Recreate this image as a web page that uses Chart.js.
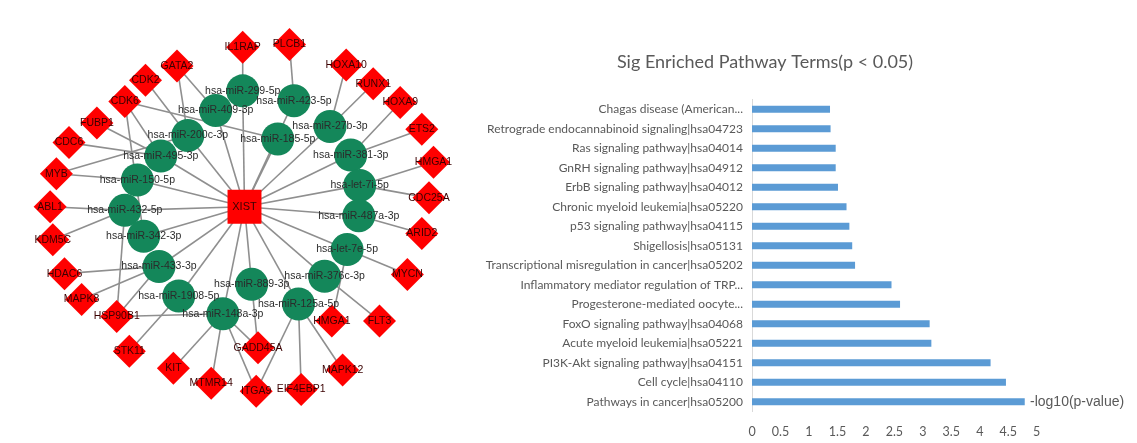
<!DOCTYPE html>
<html lang="en">
<head>
<meta charset="UTF-8">
<title>XIST ceRNA network and enriched pathways</title>
<script src="https://cdn.jsdelivr.net/npm/chart.js"></script>
<style>
  body { margin: 0; background: #fff; }
  #wrap { position: relative; width: 1137px; height: 443px; overflow: hidden; }
  #net { position: absolute; left: 0; top: 0; }
  #bars { position: absolute; left: 470px; top: 0; }
</style>
</head>
<body>
<div id="wrap">
  <canvas id="net" width="480" height="443"></canvas>
  <canvas id="bars" width="667" height="443"></canvas>
</div>
<script>
// ---------- network data (layout positions)
var hubName = 'XIST';
var hubX = 245, hubY = 205;

var mirNames = ['hsa-miR-299-5p', 'hsa-miR-409-3p', 'hsa-miR-423-5p', 'hsa-miR-27b-3p', 'hsa-miR-185-5p',
  'hsa-miR-200c-3p', 'hsa-miR-495-3p', 'hsa-miR-381-3p', 'hsa-miR-150-5p', 'hsa-let-7i-5p',
  'hsa-miR-432-5p', 'hsa-miR-487a-3p', 'hsa-miR-342-3p', 'hsa-let-7e-5p', 'hsa-miR-433-3p',
  'hsa-miR-376c-3p', 'hsa-miR-1908-5p', 'hsa-miR-889-3p', 'hsa-miR-148a-3p', 'hsa-miR-125a-5p'];
var mirX = [243, 213, 300, 340, 282, 182, 152, 363, 126, 373, 112, 372, 133, 359, 150, 334, 172, 253, 221, 305];
var mirY = [75, 97, 86, 115, 129, 125, 148, 147, 175, 181, 209, 215, 238, 253, 272, 283, 305, 292, 325, 314];

var geneNames = ['IL1RAP', 'PLCB1', 'HOXA10', 'RUNX1', 'HOXA9', 'ETS2', 'HMGA1', 'CDC25A', 'ARID2', 'MYCN',
  'FLT3', 'HMGA1', 'MAPK12', 'EIF4EBP1', 'ITGA9', 'GADD45A', 'MTMR14', 'KIT', 'STK11', 'HSP90B1',
  'MAPK8', 'HDAC6', 'KDM5C', 'ABL1', 'MYB', 'CDC6', 'FUBP1', 'CDK6', 'CDK2', 'GATA2'];
var geneX = [243, 295, 358, 388, 418, 442, 455, 450, 442, 426, 395, 342, 354, 308, 258, 260, 208, 166, 117, 103,
  64, 45, 32, 29, 36, 50, 81, 112, 135, 170];
var geneY = [26, 23, 46, 67, 88, 118, 155, 195, 235, 281, 333, 333, 388, 410, 412, 363, 403, 386, 367, 328,
  309, 280, 242, 205, 168, 133, 111, 87, 63, 47];

// [gene index, miRNA index]
var targetLinks = [[0, 0], [1, 2], [2, 3], [3, 3], [4, 7], [5, 7], [6, 9], [7, 9], [8, 11], [9, 13],
  [10, 15], [11, 13], [12, 19], [13, 19], [14, 19], [14, 18], [15, 17], [15, 18], [16, 18], [17, 18],
  [18, 16], [19, 18], [19, 14], [19, 10], [20, 14], [21, 14], [22, 10], [23, 10], [24, 8], [24, 5],
  [25, 6], [26, 6], [27, 6], [27, 4], [27, 12], [28, 5], [29, 1], [29, 5]];

// ---------- enrichment bar data
var chartTitle = 'Sig Enriched Pathway Terms(p < 0.05)';
var seriesLabel = '-log10(p-value)';
var pathwayTerms = ['Chagas disease (American...', 'Retrograde endocannabinoid signaling|hsa04723',
  'Ras signaling pathway|hsa04014', 'GnRH signaling pathway|hsa04912', 'ErbB signaling pathway|hsa04012',
  'Chronic myeloid leukemia|hsa05220', 'p53 signaling pathway|hsa04115', 'Shigellosis|hsa05131',
  'Transcriptional misregulation in cancer|hsa05202', 'Inflammatory mediator regulation of TRP...',
  'Progesterone-mediated oocyte...', 'FoxO signaling pathway|hsa04068', 'Acute myeloid leukemia|hsa05221',
  'PI3K-Akt signaling pathway|hsa04151', 'Cell cycle|hsa04110', 'Pathways in cancer|hsa05200'];
var pathwayScores = [1.37, 1.38, 1.47, 1.47, 1.51, 1.66, 1.71, 1.76, 1.81, 2.45, 2.60, 3.12, 3.15, 4.19, 4.46, 4.79];

// ---------- network chart
var edgeSets = [];
mirNames.forEach(function(name, i) {
  edgeSets.push({ data: [{x: hubX, y: hubY}, {x: mirX[i], y: mirY[i]}] });
});
targetLinks.forEach(function(l) {
  edgeSets.push({ data: [{x: geneX[l[0]], y: geneY[l[0]]}, {x: mirX[l[1]], y: mirY[l[1]]}] });
});
edgeSets.forEach(function(ds) {
  ds.showLine = true;
  ds.borderColor = '#8f8f8f';
  ds.borderWidth = 1.6;
  ds.pointRadius = 0;
  ds.order = 5;
  ds.clip = false;
});

var netDatasets = edgeSets.concat([
  {
    data: geneNames.map(function(n, i) { return {x: geneX[i], y: geneY[i]}; }),
    pointStyle: 'rectRot', pointRadius: 16.5, backgroundColor: '#ff0000', borderWidth: 0, order: 3, clip: false
  },
  {
    data: mirNames.map(function(n, i) { return {x: mirX[i], y: mirY[i]}; }),
    pointStyle: 'circle', pointRadius: 16.5, backgroundColor: '#14875a', borderWidth: 0, order: 2, clip: false
  },
  {
    data: [{x: hubX, y: hubY}],
    pointStyle: 'rect', pointRadius: 24, backgroundColor: '#ff0000', borderWidth: 0, order: 1, clip: false
  }
]);

var nodeLabels = {
  id: 'nodeLabels',
  afterDatasetsDraw: function(chart) {
    var ctx = chart.ctx, xs = chart.scales.x, ys = chart.scales.y;
    ctx.save();
    ctx.textAlign = 'center';
    ctx.textBaseline = 'middle';
    ctx.font = '10.5px "Liberation Sans", Arial, sans-serif';
    ctx.fillStyle = '#2b2b2b';
    mirNames.forEach(function(n, i) {
      ctx.fillText(n, xs.getPixelForValue(mirX[i]), ys.getPixelForValue(mirY[i]));
    });
    ctx.fillStyle = '#3a0000';
    geneNames.forEach(function(n, i) {
      ctx.fillText(n, xs.getPixelForValue(geneX[i]), ys.getPixelForValue(geneY[i]));
    });
    ctx.font = '11px "Liberation Sans", Arial, sans-serif';
    ctx.fillText(hubName, xs.getPixelForValue(hubX), ys.getPixelForValue(hubY));
    ctx.restore();
  }
};

new Chart(document.getElementById('net'), {
  type: 'scatter',
  data: { datasets: netDatasets },
  options: {
    responsive: false,
    animation: false,
    events: [],
    layout: { padding: 0 },
    plugins: { legend: { display: false }, tooltip: { enabled: false } },
    scales: {
      x: { type: 'linear', min: 0, max: 480, display: false },
      y: { type: 'linear', min: 0, max: 443, reverse: true, display: false }
    }
  },
  plugins: [nodeLabels]
});

// ---------- bar chart
var barText = {
  id: 'barText',
  afterDraw: function(chart) {
    var ctx = chart.ctx;
    ctx.save();
    ctx.fillStyle = '#595959';
    ctx.textAlign = 'center';
    ctx.textBaseline = 'middle';
    ctx.font = '18px Lato, "Open Sans", sans-serif';
    ctx.fillText(chartTitle, 295, 62);
    // series name sits just right of the longest bar, as in the original
    var meta = chart.getDatasetMeta(0);
    var last = meta.data[meta.data.length - 1];
    ctx.textAlign = 'left';
    ctx.font = '14px "Liberation Sans", Arial, sans-serif';
    ctx.fillText(chart.data.datasets[0].label, 560, last.y);
    ctx.restore();
  }
};

new Chart(document.getElementById('bars'), {
  type: 'bar',
  data: {
    labels: pathwayTerms,
    datasets: [{
      label: seriesLabel,
      data: pathwayScores,
      backgroundColor: '#5b9bd5',
      barPercentage: 0.36,
      categoryPercentage: 1
    }]
  },
  options: {
    indexAxis: 'y',
    responsive: false,
    animation: false,
    events: [],
    layout: { padding: { top: 99.6, right: 100.3, bottom: 0, left: 0 } },
    plugins: { legend: { display: false }, tooltip: { enabled: false } },
    scales: {
      x: {
        min: 0, max: 5,
        ticks: {
          stepSize: 0.5, color: '#595959', padding: 13, font: { family: 'Lato', size: 12.5 },
          callback: function(v) { return String(Math.round(v * 10) / 10); }
        },
        grid: { display: false, drawTicks: false },
        border: { display: false },
        afterFit: function(s) { s.height = 31.5; }
      },
      y: {
        ticks: { color: '#595959', padding: 9, autoSkip: false, font: { family: 'Lato', size: 12 } },
        grid: { display: false, drawTicks: false },
        border: { display: true, color: '#d9d9d9', width: 1 },
        afterFit: function(s) { s.width = 282; }
      }
    }
  },
  plugins: [barText]
});
</script>
</body>
</html>
